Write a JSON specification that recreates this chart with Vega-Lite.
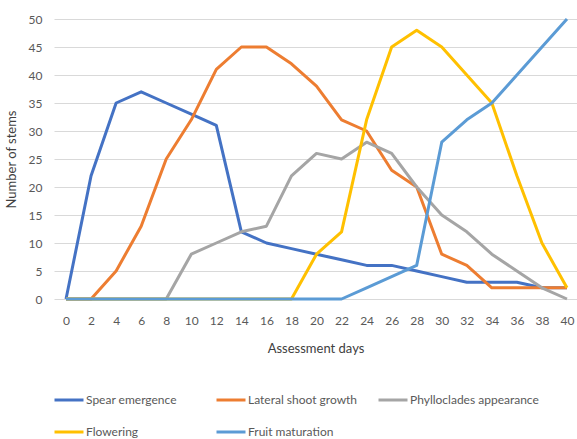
{
  "$schema": "https://vega.github.io/schema/vega-lite/v6.json",
  "autosize": "none",
  "width": 523,
  "height": 280,
  "padding": {"left": 54, "top": 19, "right": 0, "bottom": 140},
  "background": "white",
  "config": {
    "font": "Lato, sans-serif",
    "view": {"stroke": null}
  },
  "datasets": {
    "stems": [
      {"day": 0, "series": "Spear emergence", "n": 0},
      {"day": 2, "series": "Spear emergence", "n": 22},
      {"day": 4, "series": "Spear emergence", "n": 35},
      {"day": 6, "series": "Spear emergence", "n": 37},
      {"day": 8, "series": "Spear emergence", "n": 35},
      {"day": 10, "series": "Spear emergence", "n": 33},
      {"day": 12, "series": "Spear emergence", "n": 31},
      {"day": 14, "series": "Spear emergence", "n": 12},
      {"day": 16, "series": "Spear emergence", "n": 10},
      {"day": 18, "series": "Spear emergence", "n": 9},
      {"day": 20, "series": "Spear emergence", "n": 8},
      {"day": 22, "series": "Spear emergence", "n": 7},
      {"day": 24, "series": "Spear emergence", "n": 6},
      {"day": 26, "series": "Spear emergence", "n": 6},
      {"day": 28, "series": "Spear emergence", "n": 5},
      {"day": 30, "series": "Spear emergence", "n": 4},
      {"day": 32, "series": "Spear emergence", "n": 3},
      {"day": 34, "series": "Spear emergence", "n": 3},
      {"day": 36, "series": "Spear emergence", "n": 3},
      {"day": 38, "series": "Spear emergence", "n": 2},
      {"day": 40, "series": "Spear emergence", "n": 2},
      {"day": 0, "series": "Lateral shoot growth", "n": 0},
      {"day": 2, "series": "Lateral shoot growth", "n": 0},
      {"day": 4, "series": "Lateral shoot growth", "n": 5},
      {"day": 6, "series": "Lateral shoot growth", "n": 13},
      {"day": 8, "series": "Lateral shoot growth", "n": 25},
      {"day": 10, "series": "Lateral shoot growth", "n": 32},
      {"day": 12, "series": "Lateral shoot growth", "n": 41},
      {"day": 14, "series": "Lateral shoot growth", "n": 45},
      {"day": 16, "series": "Lateral shoot growth", "n": 45},
      {"day": 18, "series": "Lateral shoot growth", "n": 42},
      {"day": 20, "series": "Lateral shoot growth", "n": 38},
      {"day": 22, "series": "Lateral shoot growth", "n": 32},
      {"day": 24, "series": "Lateral shoot growth", "n": 30},
      {"day": 26, "series": "Lateral shoot growth", "n": 23},
      {"day": 28, "series": "Lateral shoot growth", "n": 20},
      {"day": 30, "series": "Lateral shoot growth", "n": 8},
      {"day": 32, "series": "Lateral shoot growth", "n": 6},
      {"day": 34, "series": "Lateral shoot growth", "n": 2},
      {"day": 36, "series": "Lateral shoot growth", "n": 2},
      {"day": 38, "series": "Lateral shoot growth", "n": 2},
      {"day": 40, "series": "Lateral shoot growth", "n": 2},
      {"day": 0, "series": "Phylloclades appearance", "n": 0},
      {"day": 2, "series": "Phylloclades appearance", "n": 0},
      {"day": 4, "series": "Phylloclades appearance", "n": 0},
      {"day": 6, "series": "Phylloclades appearance", "n": 0},
      {"day": 8, "series": "Phylloclades appearance", "n": 0},
      {"day": 10, "series": "Phylloclades appearance", "n": 8},
      {"day": 12, "series": "Phylloclades appearance", "n": 10},
      {"day": 14, "series": "Phylloclades appearance", "n": 12},
      {"day": 16, "series": "Phylloclades appearance", "n": 13},
      {"day": 18, "series": "Phylloclades appearance", "n": 22},
      {"day": 20, "series": "Phylloclades appearance", "n": 26},
      {"day": 22, "series": "Phylloclades appearance", "n": 25},
      {"day": 24, "series": "Phylloclades appearance", "n": 28},
      {"day": 26, "series": "Phylloclades appearance", "n": 26},
      {"day": 28, "series": "Phylloclades appearance", "n": 20},
      {"day": 30, "series": "Phylloclades appearance", "n": 15},
      {"day": 32, "series": "Phylloclades appearance", "n": 12},
      {"day": 34, "series": "Phylloclades appearance", "n": 8},
      {"day": 36, "series": "Phylloclades appearance", "n": 5},
      {"day": 38, "series": "Phylloclades appearance", "n": 2},
      {"day": 40, "series": "Phylloclades appearance", "n": 0},
      {"day": 0, "series": "Flowering", "n": 0},
      {"day": 2, "series": "Flowering", "n": 0},
      {"day": 4, "series": "Flowering", "n": 0},
      {"day": 6, "series": "Flowering", "n": 0},
      {"day": 8, "series": "Flowering", "n": 0},
      {"day": 10, "series": "Flowering", "n": 0},
      {"day": 12, "series": "Flowering", "n": 0},
      {"day": 14, "series": "Flowering", "n": 0},
      {"day": 16, "series": "Flowering", "n": 0},
      {"day": 18, "series": "Flowering", "n": 0},
      {"day": 20, "series": "Flowering", "n": 8},
      {"day": 22, "series": "Flowering", "n": 12},
      {"day": 24, "series": "Flowering", "n": 32},
      {"day": 26, "series": "Flowering", "n": 45},
      {"day": 28, "series": "Flowering", "n": 48},
      {"day": 30, "series": "Flowering", "n": 45},
      {"day": 32, "series": "Flowering", "n": 40},
      {"day": 34, "series": "Flowering", "n": 35},
      {"day": 36, "series": "Flowering", "n": 22},
      {"day": 38, "series": "Flowering", "n": 10},
      {"day": 40, "series": "Flowering", "n": 2},
      {"day": 0, "series": "Fruit maturation", "n": 0},
      {"day": 2, "series": "Fruit maturation", "n": 0},
      {"day": 4, "series": "Fruit maturation", "n": 0},
      {"day": 6, "series": "Fruit maturation", "n": 0},
      {"day": 8, "series": "Fruit maturation", "n": 0},
      {"day": 10, "series": "Fruit maturation", "n": 0},
      {"day": 12, "series": "Fruit maturation", "n": 0},
      {"day": 14, "series": "Fruit maturation", "n": 0},
      {"day": 16, "series": "Fruit maturation", "n": 0},
      {"day": 18, "series": "Fruit maturation", "n": 0},
      {"day": 20, "series": "Fruit maturation", "n": 0},
      {"day": 22, "series": "Fruit maturation", "n": 0},
      {"day": 24, "series": "Fruit maturation", "n": 2},
      {"day": 26, "series": "Fruit maturation", "n": 4},
      {"day": 28, "series": "Fruit maturation", "n": 6},
      {"day": 30, "series": "Fruit maturation", "n": 28},
      {"day": 32, "series": "Fruit maturation", "n": 32},
      {"day": 34, "series": "Fruit maturation", "n": 35},
      {"day": 36, "series": "Fruit maturation", "n": 40},
      {"day": 38, "series": "Fruit maturation", "n": 45},
      {"day": 40, "series": "Fruit maturation", "n": 50}
    ]
  },
  "data": {"name": "stems"},
  "mark": {"type": "line", "strokeWidth": 3, "strokeJoin": "round", "clip": false},
  "encoding": {
    "x": {
      "field": "day",
      "type": "quantitative",
      "scale": {"domain": [-0.96, 40.8], "nice": false, "zero": false},
      "axis": {
        "title": "Assessment days",
        "values": [0,2,4,6,8,10,12,14,16,18,20,22,24,26,28,30,32,34,36,38,40],
        "grid": false,
        "domain": false,
        "ticks": false,
        "labelPadding": 16,
        "labelFontSize": 12,
        "labelColor": "#595959",
        "titleFontSize": 13,
        "titleFontWeight": "normal",
        "titleColor": "#404040",
        "titlePadding": 16
      }
    },
    "y": {
      "field": "n",
      "type": "quantitative",
      "scale": {"domain": [0, 50], "nice": false},
      "axis": {
        "title": "Number of stems",
        "values": [0,5,10,15,20,25,30,35,40,45,50],
        "grid": true,
        "gridColor": "#D9D9D9",
        "gridWidth": 1,
        "domain": false,
        "ticks": false,
        "labelPadding": 12,
        "labelFontSize": 12,
        "labelColor": "#595959",
        "titleFontSize": 13,
        "titleFontWeight": "normal",
        "titleColor": "#404040",
        "titlePadding": 10
      }
    },
    "color": {
      "field": "series",
      "type": "nominal",
      "sort": ["Spear emergence", "Lateral shoot growth", "Phylloclades appearance", "Flowering", "Fruit maturation"],
      "scale": {
        "domain": ["Spear emergence", "Lateral shoot growth", "Phylloclades appearance", "Flowering", "Fruit maturation"],
        "range": ["#4472C4", "#ED7D31", "#A5A5A5", "#FFC000", "#5B9BD5"]
      },
      "legend": {
        "title": null,
        "orient": "none",
        "legendX": -1,
        "legendY": 365,
        "direction": "horizontal",
        "columns": 3,
        "gridAlign": "all",
        "columnPadding": -5,
        "rowPadding": 10,
        "symbolType": "stroke",
        "symbolSize": 841,
        "symbolStrokeWidth": 3,
        "labelOffset": 1,
        "labelFontSize": 12,
        "labelColor": "#595959",
        "labelLimit": 300
      }
    }
  }
}
